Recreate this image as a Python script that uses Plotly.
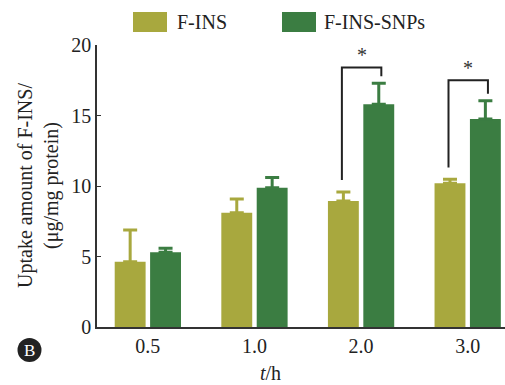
import plotly.graph_objects as go

categories = ["0.5", "1.0", "2.0", "3.0"]
fins = [4.63, 8.10, 8.94, 10.19]
fins_err = [2.25, 0.98, 0.63, 0.28]
snps = [5.30, 9.88, 15.80, 14.75]
snps_err = [0.28, 0.72, 1.48, 1.30]
series_names = ["F-INS", "F-INS-SNPs"]
sig_groups = [2, 3]
sig_top = [18.4, 17.5]
y_ticks = [0, 5, 10, 15, 20]

C1 = "#a8a83e"
C2 = "#3b7d42"
FONT = "Liberation Serif, serif"
W, H = 505, 385
ML, MR, MT, MB = 97, 0, 45, 58

def px(x):
    return (x - ML) / (W - ML - MR)

def py(y):
    return (H - MB - y) / (H - MT - MB)

fig = go.Figure()
for name, vals, errs, col in [(series_names[0], fins, fins_err, C1),
                              (series_names[1], snps, snps_err, C2)]:
    fig.add_trace(go.Bar(
        x=categories, y=vals, name=name, marker=dict(color=col, line=dict(width=0)),
        error_y=dict(type="data", array=errs, arrayminus=[0] * len(errs), symmetric=False,
                     color=col, thickness=3, width=7),
        showlegend=False,
    ))

shapes = []
annotations = []
for g, top in zip(sig_groups, sig_top):
    left_start = fins[g] + fins_err[g] + 0.85
    right_end = snps[g] + snps_err[g] + 0.5
    xl, xr = g - 0.18, g + 0.19
    shapes.append(dict(type="path", xref="x", yref="y",
                       path=f"M {xl} {left_start} L {xl} {top} L {xr} {top} L {xr} {right_end}",
                       line=dict(color="#222222", width=2)))
    annotations.append(dict(x=(xl + xr) / 2, y=top + 0.9, xref="x", yref="y", text="*",
                            showarrow=False, yanchor="middle",
                            font=dict(family=FONT, size=20, color="#333333")))

# custom legend
for (x0, x1, tx), name, col in zip([(133, 167, 175), (282, 316, 322)], series_names, [C1, C2]):
    shapes.append(dict(type="rect", xref="paper", yref="paper",
                       x0=px(x0), x1=px(x1), y0=py(32), y1=py(12),
                       fillcolor=col, line=dict(width=0)))
    annotations.append(dict(x=px(tx), y=py(22), xref="paper", yref="paper", text=name,
                            showarrow=False, xanchor="left", yanchor="middle",
                            font=dict(family=FONT, size=20, color="#222222")))

# y title
annotations.append(dict(x=px(38), y=py(186), xref="paper", yref="paper",
                        text="Uptake amount of F-INS/<br>(μg/mg protein)", textangle=-90,
                        showarrow=False, xanchor="center", yanchor="middle",
                        font=dict(family=FONT, size=20, color="#222222")))
# x title
annotations.append(dict(x=px(270), y=py(373), xref="paper", yref="paper",
                        text="<i>t</i>/h", showarrow=False, xanchor="center", yanchor="middle",
                        font=dict(family=FONT, size=20, color="#222222")))
# panel label
shapes.append(dict(type="circle", xref="paper", yref="paper",
                   x0=px(17.5), x1=px(41.5), y0=py(362), y1=py(338),
                   fillcolor="#222222", line=dict(width=0)))
annotations.append(dict(x=px(29.5), y=py(350), xref="paper", yref="paper", text="B",
                        showarrow=False, xanchor="center", yanchor="middle",
                        font=dict(family=FONT, size=17, color="white")))

fig.update_layout(
    width=W, height=H,
    margin=dict(l=ML, r=MR, t=MT, b=MB, pad=0),
    paper_bgcolor="white", plot_bgcolor="white",
    barmode="group", bargap=0.336, bargroupgap=0.127,
    shapes=shapes, annotations=annotations,
    font=dict(family=FONT, size=20, color="#222222"),
    xaxis=dict(type="category", range=[-0.477, 3.35], showline=True, linecolor="#333333",
               linewidth=1.5, ticks="", showgrid=False, zeroline=False,
               tickfont=dict(family=FONT, size=20, color="#222222")),
    yaxis=dict(range=[0, 20], tickvals=y_ticks, showline=True, linecolor="#333333",
               linewidth=1.5, ticks="inside", ticklen=4, tickcolor="#333333",
               showgrid=False, zeroline=False,
               tickfont=dict(family=FONT, size=20, color="#222222")),
)

fig.write_html("out.html")
